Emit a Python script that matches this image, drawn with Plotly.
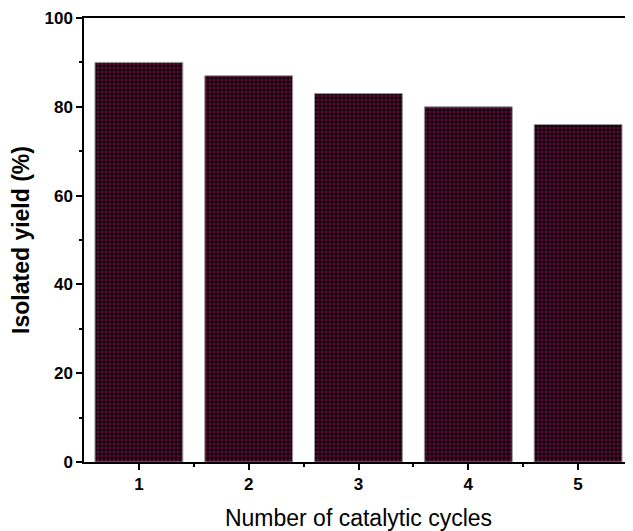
import plotly.graph_objects as go

cycles = [1, 2, 3, 4, 5]
yields = [90, 87, 83, 80, 76]
y_ticks = [0, 20, 40, 60, 80, 100]

fig = go.Figure()
fig.add_trace(go.Bar(
    x=cycles, y=yields, width=0.8,
    marker=dict(
        color="#000000",
        line=dict(color="#9a9a9a", width=1),
        pattern=dict(shape=".", fgcolor="#b0106a", bgcolor="#000000", size=4, solidity=0.6, fillmode="overlay"),
    ),
))

font = "Liberation Sans, Arial, sans-serif"
# the page body adds an 8px offset, so the figure is 8px smaller than the window
fig.update_layout(
    width=625, height=523,
    margin=dict(l=76, r=0, t=10, b=69),
    paper_bgcolor="white", plot_bgcolor="white",
    showlegend=False,
    font=dict(family=font, color="black"),
)
fig.update_xaxes(
    range=[0.5, 5.5], tickvals=cycles, ticktext=[f"<b>{c}</b>" for c in cycles],
    ticks="outside", ticklen=6, tickwidth=1.5, tickcolor="black",
    minor=dict(tickvals=[1.5, 2.5, 3.5, 4.5], ticks="outside", ticklen=3, tickwidth=1.5, tickcolor="black"),
    showline=True, linecolor="black", linewidth=1.5, mirror=True,
    showgrid=False, zeroline=False,
    tickfont=dict(size=17, family=font),
    title=dict(text="Number of catalytic cycles", font=dict(size=23, family=font), standoff=22),
)
fig.update_yaxes(
    range=[0, 100], tickvals=y_ticks, ticktext=[f"<b>{t}</b>" for t in y_ticks],
    ticks="outside", ticklen=6, tickwidth=1.5, tickcolor="black",
    minor=dict(tickvals=[10, 30, 50, 70, 90], ticks="outside", ticklen=3, tickwidth=1.5, tickcolor="black"),
    showline=True, linecolor="black", linewidth=1.5,
    showgrid=False, zeroline=False,
    tickfont=dict(size=17, family=font),
    title=dict(text="<b>Isolated yield (%)</b>", font=dict(size=23, family=font), standoff=9),
)

fig.write_html("out.html")
